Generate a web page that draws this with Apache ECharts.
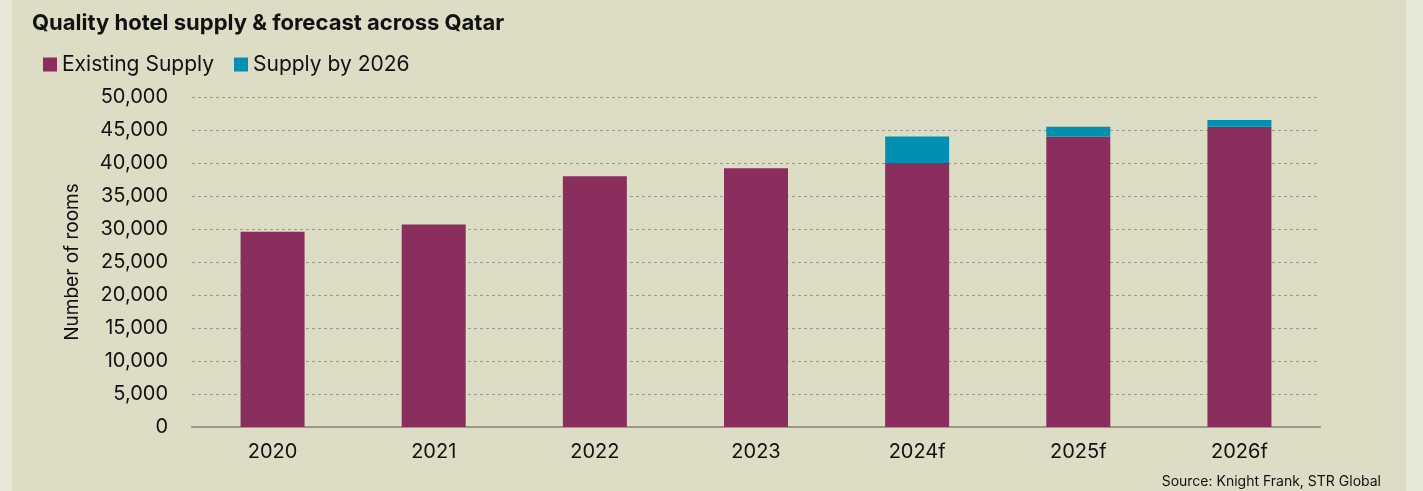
<!DOCTYPE html>
<html>
<head>
<meta charset="utf-8">
<script src="https://cdn.jsdelivr.net/npm/echarts@6/dist/echarts.min.js"></script>
<style>
  html, body { margin: 0; padding: 0; }
  body {
    width: 1423px; height: 491px; overflow: hidden;
    background: linear-gradient(to right, #e7e7d7 0px, #e7e7d7 12px, #dddcc5 12px, #dddcc5 1406px, #e7e7d7 1406px);
  }
  #chart { width: 1423px; height: 491px; }
</style>
</head>
<body>
<div id="chart"></div>
<script>
const categories = ['2020', '2021', '2022', '2023', '2024f', '2025f', '2026f'];
const existingSupply = [29600, 30700, 38000, 39200, 40000, 44000, 45500];
const supplyBy2026 = [0, 0, 0, 0, 4000, 1500, 1000];
const yTicks = [0, 5000, 10000, 15000, 20000, 25000, 30000, 35000, 40000, 45000, 50000];

const FONT = 'Inter, Liberation Sans, Arial, sans-serif';
const chart = echarts.init(document.getElementById('chart'), null, { renderer: 'canvas' });

chart.setOption({
  backgroundColor: 'transparent',
  animation: false,
  title: [
    {
      text: 'Quality hotel supply & forecast across Qatar',
      left: 27, top: 7,
      textStyle: { fontFamily: FONT, fontSize: 22, fontWeight: 'bold', color: '#111' }
    },
    {
      text: 'Source: Knight Frank, STR Global',
      right: 37, top: 470,
      textStyle: { fontFamily: FONT, fontSize: 14, fontWeight: 'normal', color: '#111' }
    }
  ],
  legend: {
    left: 38, top: 49,
    itemWidth: 14, itemHeight: 14, itemGap: 20,
    icon: 'rect',
    textStyle: { fontFamily: FONT, fontSize: 21, color: '#111' },
    data: ['Existing Supply', 'Supply by 2026']
  },
  grid: { left: 192, right: 103, top: 97, bottom: 64, containLabel: false },
  xAxis: {
    type: 'category',
    data: categories,
    axisLine: { lineStyle: { color: '#999988', width: 2 } },
    axisTick: { show: false },
    axisLabel: { fontFamily: FONT, fontSize: 20, color: '#111', margin: 15 }
  },
  yAxis: {
    type: 'value',
    min: yTicks[0], max: yTicks[yTicks.length - 1], interval: 5000,
    name: 'Number of rooms',
    nameLocation: 'middle',
    nameGap: 110,
    nameTextStyle: { fontFamily: FONT, fontSize: 19, color: '#111' },
    axisLine: { show: false },
    axisTick: { show: false },
    axisLabel: {
      fontFamily: FONT, fontSize: 20, color: '#111', margin: 24,
      formatter: v => v.toLocaleString('en-US')
    },
    splitLine: { lineStyle: { color: '#9a9a94', type: [3, 3], width: 1 } }
  },
  series: [
    {
      name: 'Existing Supply', type: 'bar', stack: 'total',
      data: existingSupply, barWidth: 64,
      itemStyle: { color: '#8a2f5d' }
    },
    {
      name: 'Supply by 2026', type: 'bar', stack: 'total',
      data: supplyBy2026, barWidth: 64,
      itemStyle: { color: '#0091b2' }
    }
  ]
});
</script>
</body>
</html>
